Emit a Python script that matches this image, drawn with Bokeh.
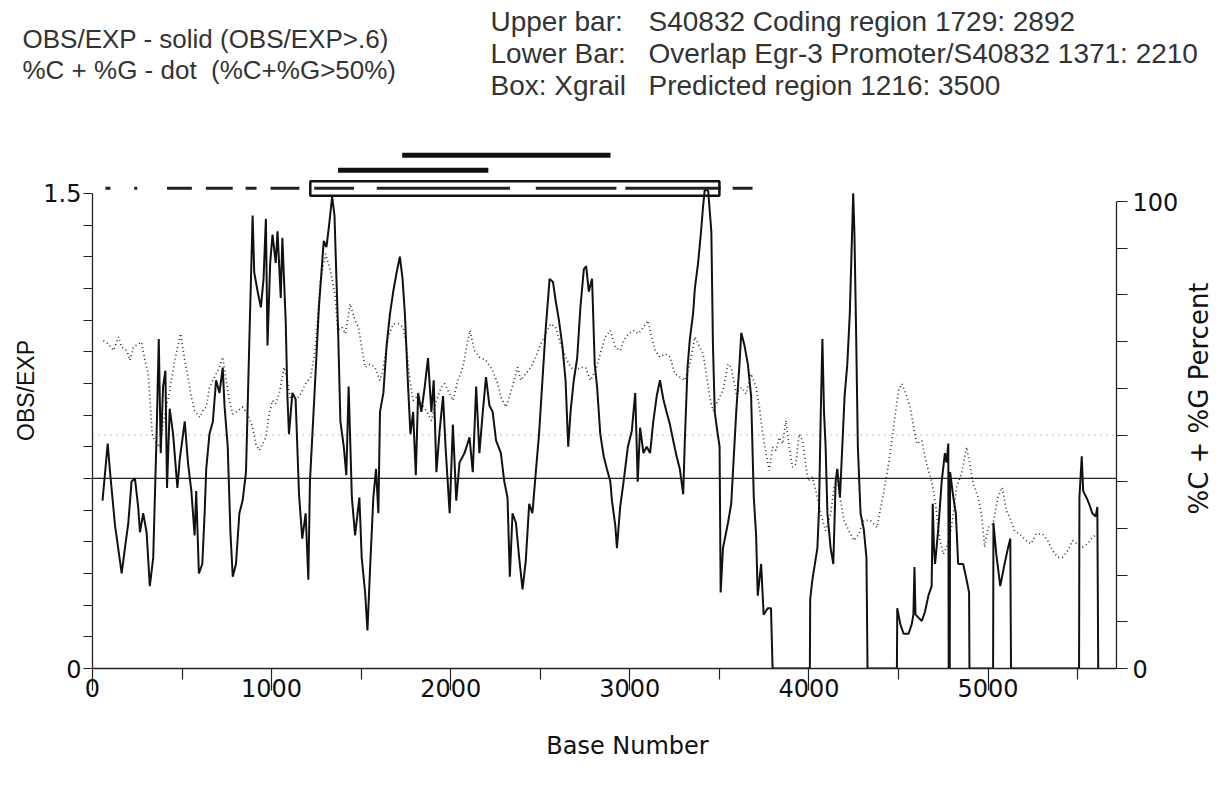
import math
from bokeh.plotting import figure
from bokeh.layouts import row
from bokeh.models import Range1d, LinearAxis, FixedTicker, Label
from bokeh.embed import file_html
from bokeh.resources import INLINE

# ---------------- data ----------------
obs_base = [56, 85, 98, 126, 163, 181, 200, 218, 237, 255, 265, 283, 302, 320, 339, 357, 370, 381, 394, 407,
            416, 431, 450, 474, 487, 515, 533, 552, 570, 579, 594, 613, 626, 635, 653, 672, 690, 709, 727, 737,
            755, 770, 783, 801, 820, 838, 857, 875, 894, 903, 922, 940, 955, 968, 977, 992, 1005, 1023, 1033, 1051,
            1060, 1079, 1088, 1097, 1116, 1134, 1153, 1171, 1190, 1205, 1214, 1236, 1264, 1291, 1306, 1319, 1338, 1351, 1362, 1371,
            1384, 1403, 1417, 1430, 1448, 1466, 1490, 1503, 1522, 1535, 1550, 1568, 1583, 1596, 1605, 1624, 1642, 1661, 1679, 1698,
            1716, 1731, 1744, 1762, 1775, 1790, 1805, 1818, 1836, 1855, 1873, 1892, 1905, 1920, 1938, 1957, 1971, 1994, 2012, 2031,
            2049, 2077, 2105, 2123, 2142, 2160, 2179, 2197, 2216, 2234, 2253, 2280, 2299, 2317, 2330, 2345, 2364, 2382, 2401, 2419,
            2438, 2456, 2475, 2493, 2512, 2530, 2552, 2571, 2586, 2604, 2623, 2641, 2656, 2669, 2687, 2706, 2724, 2743, 2756, 2771,
            2789, 2804, 2817, 2835, 2854, 2872, 2891, 2900, 2919, 2928, 2946, 2965, 2989, 3011, 3030, 3044, 3057, 3076, 3094, 3113,
            3131, 3150, 3168, 3187, 3205, 3224, 3242, 3261, 3279, 3298, 3307, 3322, 3335, 3353, 3363, 3381, 3396, 3409, 3418, 3437,
            3455, 3464, 3474, 3488, 3501, 3507, 3520, 3548, 3566, 3594, 3612, 3622, 3640, 3659, 3677, 3692, 3705, 3714, 3733, 3747,
            3770, 3788, 3797, 4005, 4007, 4019, 4047, 4056, 4066, 4075, 4084, 4093, 4103, 4121, 4136, 4149, 4158, 4173, 4186, 4199,
            4214, 4228, 4241, 4247, 4254, 4263, 4273, 4288, 4306, 4321, 4327, 4491, 4493, 4510, 4528, 4556, 4574, 4583, 4589, 4595,
            4630, 4648, 4667, 4685, 4691, 4698, 4704, 4722, 4741, 4759, 4768, 4778, 4780, 4786, 4788, 4806, 4820, 4833, 4861, 4880,
            4894, 4896, 5028, 5030, 5046, 5068, 5092, 5111, 5124, 5128, 5508, 5510, 5523, 5531, 5549, 5564, 5582, 5601, 5610, 5615]
obs_value = [0.53, 0.71, 0.62, 0.45, 0.30, 0.38, 0.46, 0.59, 0.60, 0.51, 0.43, 0.49, 0.43, 0.26, 0.35, 0.72, 1.04, 0.68, 0.89, 0.94,
             0.57, 0.82, 0.74, 0.57, 0.66, 0.78, 0.65, 0.56, 0.42, 0.56, 0.30, 0.33, 0.49, 0.63, 0.74, 0.78, 0.91, 0.87, 0.95, 0.83,
             0.70, 0.43, 0.29, 0.33, 0.49, 0.53, 0.62, 1.02, 1.43, 1.25, 1.19, 1.14, 1.23, 1.42, 1.02, 1.28, 1.37, 1.28, 1.38, 1.17,
             1.36, 1.09, 0.86, 0.74, 0.87, 0.85, 0.55, 0.41, 0.49, 0.28, 0.59, 0.83, 1.14, 1.35, 1.33, 1.39, 1.49, 1.43, 1.23, 1.07,
             0.78, 0.70, 0.61, 0.89, 0.54, 0.42, 0.54, 0.35, 0.24, 0.12, 0.32, 0.54, 0.63, 0.49, 0.81, 0.87, 1.02, 1.12, 1.19, 1.25,
             1.30, 1.23, 1.12, 0.89, 0.74, 0.81, 0.61, 0.87, 0.81, 0.89, 0.98, 0.81, 0.91, 0.62, 0.75, 0.86, 0.70, 0.49, 0.77, 0.53,
             0.65, 0.68, 0.73, 0.62, 0.89, 0.68, 0.81, 0.92, 0.83, 0.81, 0.72, 0.68, 0.59, 0.54, 0.29, 0.49, 0.46, 0.35, 0.25, 0.34,
             0.52, 0.49, 0.62, 0.74, 0.91, 1.07, 1.23, 1.22, 1.16, 1.10, 1.02, 0.91, 0.70, 0.81, 0.91, 0.98, 1.14, 1.26, 1.27, 1.19,
             1.23, 0.96, 0.89, 0.74, 0.67, 0.63, 0.59, 0.53, 0.45, 0.38, 0.51, 0.59, 0.70, 0.75, 0.87, 0.59, 0.76, 0.68, 0.70, 0.68,
             0.78, 0.86, 0.91, 0.85, 0.81, 0.77, 0.72, 0.67, 0.63, 0.55, 0.72, 0.95, 1.04, 1.12, 1.20, 1.28, 1.37, 1.46, 1.51, 1.51,
             1.38, 1.02, 0.81, 0.75, 0.70, 0.24, 0.38, 0.46, 0.52, 0.81, 0.96, 1.06, 1.02, 0.96, 0.86, 0.54, 0.42, 0.23, 0.33, 0.17,
             0.19, 0.19, 0.0, 0.0, 0.22, 0.28, 0.38, 0.50, 0.81, 1.04, 0.81, 0.70, 0.49, 0.38, 0.33, 0.59, 0.63, 0.54, 0.70, 0.86,
             0.96, 1.12, 1.38, 1.50, 1.37, 1.07, 0.70, 0.49, 0.44, 0.35, 0.0, 0.0, 0.19, 0.14, 0.11, 0.11, 0.14, 0.17, 0.32, 0.17,
             0.15, 0.18, 0.23, 0.26, 0.52, 0.38, 0.33, 0.44, 0.59, 0.68, 0.65, 0.71, 0.0, 0.0, 0.62, 0.54, 0.49, 0.33, 0.33, 0.28,
             0.24, 0.0, 0.0, 0.46, 0.36, 0.26, 0.33, 0.38, 0.41, 0.0, 0.0, 0.54, 0.67, 0.56, 0.54, 0.52, 0.49, 0.48, 0.51, 0.0]

gc_base = [61, 89, 117, 145, 163, 191, 209, 228, 255, 274, 293, 311, 320, 333, 348, 376, 404, 431, 459, 492,
           515, 533, 552, 570, 598, 616, 635, 653, 681, 709, 727, 746, 764, 783, 811, 838, 866, 894, 912, 931,
           949, 968, 986, 1005, 1023, 1042, 1070, 1088, 1107, 1134, 1162, 1190, 1218, 1245, 1273, 1301, 1329, 1356, 1369, 1393,
           1412, 1430, 1438, 1466, 1485, 1503, 1522, 1550, 1577, 1605, 1624, 1651, 1679, 1707, 1735, 1753, 1772, 1790, 1809, 1836,
           1864, 1892, 1920, 1947, 1966, 1994, 2012, 2040, 2068, 2095, 2108, 2132, 2160, 2197, 2234, 2262, 2280, 2308, 2327, 2354,
           2373, 2391, 2419, 2447, 2475, 2502, 2530, 2558, 2586, 2613, 2641, 2669, 2697, 2724, 2752, 2780, 2808, 2835, 2863, 2891,
           2919, 2946, 2965, 2993, 3020, 3048, 3076, 3100, 3122, 3141, 3168, 3196, 3224, 3252, 3279, 3307, 3335, 3363, 3381, 3409,
           3427, 3446, 3464, 3492, 3520, 3548, 3566, 3594, 3622, 3649, 3677, 3705, 3723, 3742, 3760, 3779, 3797, 3816, 3834, 3853,
           3871, 3890, 3908, 3927, 3945, 3964, 3982, 3995, 4019, 4047, 4066, 4093, 4121, 4140, 4158, 4177, 4195, 4223, 4251, 4278,
           4306, 4343, 4380, 4408, 4436, 4463, 4482, 4500, 4519, 4547, 4565, 4584, 4602, 4630, 4648, 4667, 4685, 4704, 4717, 4732,
           4750, 4769, 4796, 4824, 4852, 4880, 4898, 4917, 4944, 4963, 4981, 5000, 5028, 5055, 5079, 5102, 5120, 5148, 5176, 5213,
           5240, 5268, 5305, 5333, 5361, 5388, 5416, 5444, 5472, 5499, 5527, 5555, 5583, 5610]
gc_value = [70.2, 69.5, 68.1, 71.0, 68.8, 68.1, 66.0, 68.8, 69.5, 69.9, 66.0, 63.1, 58.1, 50.2, 48.8, 47.4, 54.5, 59.5, 66.0, 71.7,
            66.0, 62.4, 58.1, 55.2, 53.8, 55.2, 56.0, 60.2, 62.4, 64.5, 66.7, 61.7, 57.4, 54.5, 55.2, 56.0, 54.5, 51.7, 48.1, 46.7,
            48.1, 49.5, 54.5, 57.4, 56.7, 58.8, 64.5, 61.7, 57.4, 57.4, 58.8, 61.0, 62.4, 68.8, 83.1, 88.8, 85.2, 79.5, 72.4, 73.1,
            71.7, 76.0, 78.1, 74.5, 73.1, 68.8, 64.5, 65.2, 64.5, 61.7, 64.5, 71.0, 73.8, 73.8, 73.1, 68.8, 61.7, 57.4, 58.1, 56.7,
            55.2, 53.1, 57.4, 60.2, 61.0, 58.8, 57.4, 61.7, 64.5, 70.2, 72.4, 68.1, 66.7, 66.0, 63.8, 61.0, 58.1, 56.0, 58.1, 61.7,
            64.5, 61.7, 63.1, 64.5, 66.7, 69.5, 71.7, 73.8, 73.1, 69.5, 66.7, 64.5, 63.8, 64.5, 64.5, 61.7, 63.8, 67.4, 71.0, 72.4,
            68.8, 68.1, 70.2, 71.7, 72.4, 71.7, 73.1, 74.5, 71.0, 68.1, 66.7, 67.4, 66.7, 63.1, 62.4, 61.7, 65.2, 71.0, 69.5, 67.4,
            63.1, 58.1, 55.2, 57.4, 59.5, 65.2, 64.5, 58.8, 60.2, 58.8, 63.1, 60.2, 56.0, 50.2, 46.0, 42.4, 47.4, 46.7, 49.5, 48.1,
            53.1, 47.4, 43.1, 43.8, 50.2, 48.8, 43.8, 40.2, 41.0, 36.7, 33.1, 29.5, 33.1, 38.8, 40.2, 36.0, 31.7, 29.5, 27.4, 28.8,
            31.7, 31.7, 30.2, 36.0, 41.7, 48.8, 54.5, 59.5, 61.0, 58.1, 56.0, 51.7, 48.1, 48.8, 45.2, 42.4, 40.2, 36.0, 31.7, 27.4,
            24.5, 26.0, 30.2, 38.8, 41.7, 47.4, 43.8, 39.5, 36.7, 33.1, 26.0, 30.2, 31.0, 36.7, 38.8, 33.8, 32.4, 29.5, 28.8, 27.4,
            26.7, 28.8, 28.8, 27.4, 25.2, 23.8, 23.8, 25.2, 27.4, 26.7, 26.0, 26.7, 28.1, 28.8]

# regions (base numbers)
upper_bar = (1729, 2892)      # S40832 coding region
lower_bar = (1371, 2210)      # overlap Egr-3 promoter / S40832
xgrail_box = (1216, 3500)     # Xgrail predicted region
top_dash_start = [72, 233, 416, 633, 855, 994, 1238, 1587, 2475, 2975, 3574]
top_dash_end = [100, 250, 555, 783, 916, 1155, 1460, 2331, 2925, 3507, 3685]
obs_threshold = 0.6
gc_threshold = 50

x_ticks = [0, 1000, 2000, 3000, 4000, 5000]
x_minor = [500, 1500, 2500, 3500, 4500, 5500]

# ---------------- layout (page pixels) ----------------
W = 1216
HEAD_H = 145
LEFT_W = 40                     # strip holding the rotated left title
BL, FW, FH, BB, BR = 49, 1030, 523, 44, 62
MAIN_W = BL + FW + BR
RIGHT_W = W - LEFT_W - MAIN_W   # strip holding the rotated right title
MAIN_H = FH + BB
FOOT_H = 780 - HEAD_H - MAIN_H
X0, X1 = 0, 5717
Y1 = 1.651
G1 = 112.0


def bare(width, height, x_left, y_top, bottom=0):
    f = figure(width=width, height=height,
               x_range=Range1d(x_left, x_left + width), y_range=Range1d(y_top + height - bottom, y_top),
               output_backend="svg", toolbar_location=None,
               min_border_left=0, min_border_right=0, min_border_top=0, min_border_bottom=bottom,
               x_axis_location=None, y_axis_location=None)
    f.outline_line_color = None
    f.xgrid.visible = False
    f.ygrid.visible = False
    return f


header = bare(W, HEAD_H, 0, 0)
footer = bare(W, FOOT_H, 0, HEAD_H + MAIN_H)
left_strip = bare(LEFT_W, MAIN_H, 0, HEAD_H, bottom=BB)
right_strip = bare(RIGHT_W, MAIN_H, LEFT_W + MAIN_W, HEAD_H, bottom=BB)

p = figure(width=MAIN_W, height=MAIN_H, x_range=Range1d(X0, X1), y_range=Range1d(0, Y1),
           output_backend="svg", toolbar_location=None,
           min_border_left=BL, min_border_right=BR, min_border_top=0, min_border_bottom=BB,
           x_axis_location=None, y_axis_location=None)
p.outline_line_color = None
p.xgrid.visible = False
p.ygrid.visible = False
p.extra_y_ranges = {"gc": Range1d(0, G1)}

TICK_FONT = "DejaVu Sans"
AX = "#222222"


def style(ax, out, minor_out):
    ax.axis_line_color = AX
    ax.axis_line_width = 1.3
    ax.major_tick_out = out
    ax.major_tick_in = 0
    ax.minor_tick_out = minor_out
    ax.minor_tick_in = 0
    ax.major_tick_line_color = AX
    ax.minor_tick_line_color = AX
    ax.major_tick_line_width = 1.2
    ax.minor_tick_line_width = 1.2
    ax.major_label_text_font = TICK_FONT
    ax.major_label_text_font_size = "24px"
    ax.major_label_text_color = "#111111"


# bottom axis
xa = LinearAxis(ticker=FixedTicker(ticks=x_ticks, minor_ticks=x_minor))
style(xa, 22, 11)
xa.major_label_standoff = -12
p.add_layout(xa, "below")

# left axis
ya = LinearAxis(ticker=FixedTicker(ticks=[0, 1.5], minor_ticks=[i / 10 for i in range(1, 15)]),
                bounds=(0, 1.5))
style(ya, 9, 9)
ya.major_label_standoff = 2
ya.major_label_overrides = {0: "0", 1.5: "1.5"}
p.add_layout(ya, "left")

# right axis
ra = LinearAxis(y_range_name="gc", ticker=FixedTicker(ticks=[0, 100], minor_ticks=list(range(10, 100, 10))),
                bounds=(0, 100))
style(ra, 11, 11)
ra.major_label_standoff = 5
p.add_layout(ra, "right")

# threshold lines
p.line([X0, X1], [obs_threshold, obs_threshold], line_color="#222222", line_width=1.3)
p.line([X0, X1], [gc_threshold, gc_threshold], y_range_name="gc", line_color="#888888",
       line_width=1.2, line_dash="1 5")

# GC% dotted
p.line(gc_base, gc_value, y_range_name="gc", line_color="#333333", line_width=1.7, line_dash="1 3")

# OBS/EXP solid
p.line(obs_base, obs_value, line_color="#111111", line_width=2)

# top dashed line and box
p.segment(x0=top_dash_start, x1=top_dash_end, y0=[1.516] * len(top_dash_start),
          y1=[1.516] * len(top_dash_start), line_color="#222222", line_width=3)
p.quad(left=[xgrail_box[0]], right=[xgrail_box[1]], bottom=[1.492], top=[1.538],
       fill_color=None, line_color="#111111", line_width=2.5)
p.segment(x0=[lower_bar[0]], x1=[lower_bar[1]], y0=[1.573], y1=[1.573], line_color="#111111", line_width=5)
p.segment(x0=[upper_bar[0]], x1=[upper_bar[1]], y0=[1.620], y1=[1.620], line_color="#111111", line_width=5)


# texts (page-pixel coordinates inside the helper figures)
def lab(f, px, py, txt, size, font="Liberation Sans", align="left", color="#333333", angle=0.0):
    f.add_layout(Label(x=px, y=py, text=txt, text_font=font, text_font_size=size, angle=angle,
                       text_color=color, text_align=align, text_baseline="middle"))


lab(header, 22, 38, "OBS/EXP - solid (OBS/EXP>.6)", "26px")
lab(header, 22, 69, "%C + %G - dot \u00a0(%C+%G>50%)", "26px")
lab(header, 490, 21, "Upper bar:", "28px")
lab(header, 648, 21, "S40832 Coding region 1729: 2892", "28px")
lab(header, 490, 53, "Lower Bar:", "28px")
lab(header, 648, 53, "Overlap Egr-3 Promoter/S40832 1371: 2210", "28px")
lab(header, 490, 85, "Box: Xgrail", "28px")
lab(header, 648, 85, "Predicted region 1216: 3500", "28px")

lab(left_strip, 25, 390, "OBS/EXP", "23px", align="center", color="#111111", angle=math.pi / 2)
lab(right_strip, LEFT_W + MAIN_W + RIGHT_W / 2, 398, "%C + %G Percent", "26px", font="DejaVu Sans",
    align="center", color="#111111", angle=math.pi / 2)

lab(footer, 627, 745, "Base Number", "24px", font="DejaVu Sans", align="center", color="#111111")

body = row(left_strip, p, right_strip, spacing=0)
open("out.html", "w").write(file_html((header, body, footer), INLINE))
